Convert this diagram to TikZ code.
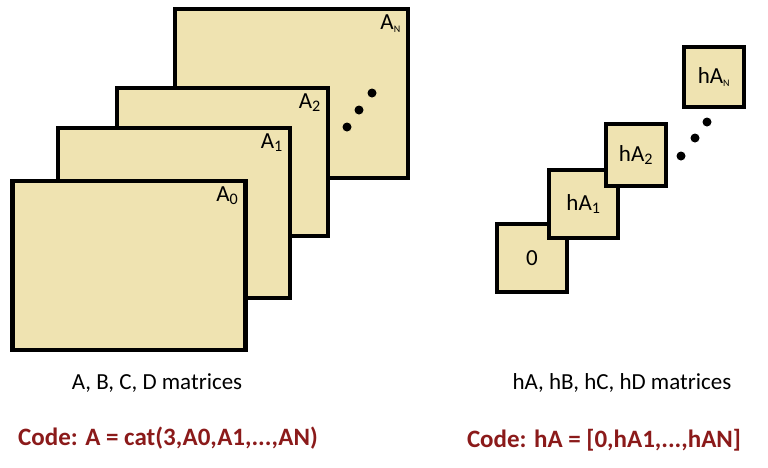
\documentclass[tikz,border=0pt]{standalone}
\usepackage{fontspec}
\setmainfont{Carlito}
\usetikzlibrary{positioning}
\definecolor{sheet}{HTML}{EFE3B1}
\definecolor{codered}{HTML}{8B1A1A}
\newcommand{\smallsub}[1]{\textsubscript{\fontsize{10}{12}\selectfont #1}}
\tikzset{
  mat/.style={draw, line width=4.5pt, fill=sheet, inner sep=0pt},
  dot/.style={fill, circle, inner sep=0pt, minimum size=9pt},
  lbl/.style={font=\fontsize{23}{27}\selectfont},
  codetxt/.style={font=\fontsize{25}{29}\selectfont\bfseries, text=codered}
}
\begin{document}
\begin{tikzpicture}[x=1pt,y=-1pt]
            \useasboundingbox (0,0) rectangle (768,467);
            % stacked matrices
            \node [mat, minimum width=233pt, minimum height=169pt] (AN) at (291.5,93.5) {};
            \node [mat, minimum width=211pt, minimum height=148pt] (A2) at (222.5,162) {};
            \node [mat, minimum width=232pt, minimum height=170pt] (A1) at (174,213) {};
            \node [mat, minimum width=233pt, minimum height=169pt] (A0) at (129,265.5) {};
            \node [lbl, anchor=north east] at ([xshift=-6pt,yshift=-4pt]AN.north east) {A\smallsub{N}};
            \node [lbl, anchor=north east] at ([xshift=-6pt,yshift=-4pt]A2.north east) {A\textsubscript{2}};
            \node [lbl, anchor=north east] at ([xshift=-6pt,yshift=-4pt]A1.north east) {A\textsubscript{1}};
            \node [lbl, anchor=north east] at ([xshift=-6pt,yshift=-4pt]A0.north east) {A\textsubscript{0}};
            \node [dot] (d1) at (347,127) {};
            \node [dot] (d2) at (359,110) {};
            \node [dot] (d3) at (372,93) {};
            % h matrices
            \node [mat, minimum width=70pt, minimum height=68pt] (h0) at (532,258) {\fontsize{23}{27}\selectfont 0};
            \node [mat, minimum width=69pt, minimum height=68pt] (h1) at (583.5,204) {};
            \node [mat, minimum width=60pt, minimum height=62pt] (h2) at (636,155) {};
            \node [mat, minimum width=60pt, minimum height=60pt] (hN) at (714,77) {};
            \node [lbl] at (h1) {hA\textsubscript{1}};
            \node [lbl] at (h2) {hA\textsubscript{2}};
            \node [lbl] at (hN) {hA\smallsub{N}};
            \node [dot] (e1) at (681,156) {};
            \node [dot] (e2) at (695,138) {};
            \node [dot] (e3) at (707,122) {};
            % captions
            \node [lbl] (capA) at (157,383) {A, B, C, D matrices};
            \node [lbl] (caph) at (622,383) {hA, hB, hC, hD matrices};
            \node [codetxt] (codeA) at (168,438) {Code: A = cat(3,A0,A1,...,AN)};
            \node [codetxt] (codeh) at (604,440) {Code: hA = [0,hA1,...,hAN]};
        \end{tikzpicture}
\end{document}
